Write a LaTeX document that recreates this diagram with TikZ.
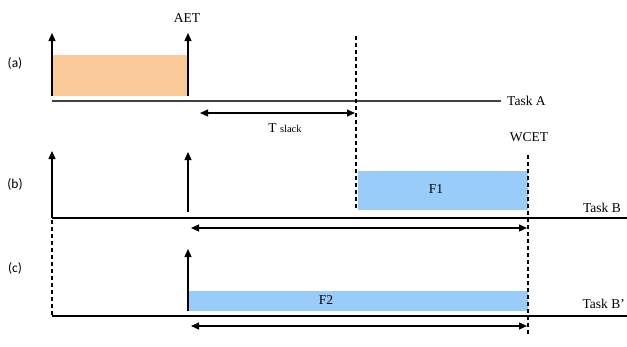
\documentclass[tikz,border=0pt]{standalone}
\usepackage{fontspec}
\setmainfont{Liberation Serif}
\newfontfamily\lblfont{Carlito}
\usetikzlibrary{arrows.meta}
\definecolor{orangefill}{HTML}{FAC998}
\definecolor{bluefill}{HTML}{9ACCFA}
\tikzset{
  txt/.style={font=\fontsize{13.5}{15}\selectfont, inner sep=1pt},
  caselbl/.style={font=\lblfont\fontsize{13.5}{15}\selectfont, inner sep=1pt},
  tip/.style={-{Triangle[length=8pt,width=7pt]}},
  dbl/.style={{Triangle[length=8pt,width=7pt]}-{Triangle[length=8pt,width=7pt]}, line width=1.2pt},
  vline/.style={line width=1.3pt},
  dashv/.style={line width=1.8pt, dash pattern=on 4pt off 3pt},
  taskline/.style={line width=1.4pt},
}
\begin{document}
\begin{tikzpicture}[x=1pt,y=-1pt]
\useasboundingbox (0,0) rectangle (627,346);
% boxes
\fill[orangefill] (53,55) rectangle (188,96);
\fill[bluefill] (358,171) rectangle (528,210);
\fill[bluefill] (189,291) rectangle (528,311);
\node[txt] (f1) at (436,189) {F1};
\node[txt] (f2) at (326,300) {F2};
% case labels
\node[caselbl] (la) at (15,63) {(a)};
\node[caselbl] (lb) at (15,184) {(b)};
\node[caselbl] (lc) at (15,268) {(c)};
% task lines
\coordinate (a0) at (52,101);
\coordinate (a1) at (501,101);
\node[txt, anchor=west] (taskA) at (506,101) {Task A};
\draw[taskline, black!75] (a0) -- (a1);
\coordinate (b0) at (52,218);
\coordinate (b1) at (627,218);
\node[txt, anchor=east] (taskB) at (622,208) {Task B};
\draw[taskline, line width=1.8pt] (b0) -- (b1);
\coordinate (c0) at (52,316);
\coordinate (c1) at (627,316);
\node[txt, anchor=east] (taskBp) at (626,304) {Task B'};
\draw[taskline, line width=1.8pt] (c0) -- (c1);
% vertical arrows
\coordinate (va1s) at (52,96); \coordinate (va1e) at (52,33);
\coordinate (va2s) at (188,96); \coordinate (va2e) at (188,33);
\coordinate (vb1s) at (52,218); \coordinate (vb1e) at (52,151);
\coordinate (vb2s) at (188,212); \coordinate (vb2e) at (188,152);
\coordinate (vc1s) at (188,311); \coordinate (vc1e) at (188,249);
\draw[vline,tip] (va1s) -- (va1e);
\draw[vline,tip] (va2s) -- (va2e);
\draw[vline,tip] (vb1s) -- (vb1e);
\draw[vline,tip] (vb2s) -- (vb2e);
\draw[vline,tip] (vc1s) -- (vc1e);
\node[txt] (aet) at (187,18) {AET};
\node[txt] (wcet) at (529,137) {WCET};
% dashed verticals
\coordinate (d1t) at (356,36); \coordinate (d1b) at (356,208);
\coordinate (d2t) at (528,155); \coordinate (d2b) at (528,336);
\coordinate (d3t) at (52,220); \coordinate (d3b) at (52,316);
\draw[dashv] (d1t) -- (d1b);
\draw[dashv] (d2t) -- (d2b);
\draw[dashv] (d3t) -- (d3b);
% double arrows
\coordinate (s0) at (200,113); \coordinate (s1) at (355,113);
\draw[dbl] (s0) -- (s1);
\node[txt] (tslack) at (285,128) {T {\fontsize{10.5}{12}\selectfont slack}};
\coordinate (r0) at (191,228); \coordinate (r1) at (527,228);
\draw[dbl] (r0) -- (r1);
\coordinate (q0) at (191,326); \coordinate (q1) at (527,326);
\draw[dbl] (q0) -- (q1);
\end{tikzpicture}
\end{document}
